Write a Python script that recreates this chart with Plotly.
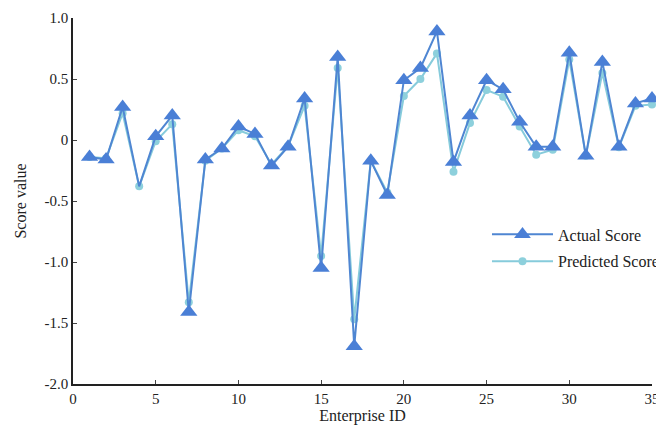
import plotly.graph_objects as go

enterprise_id = list(range(1, 36))
actual_score = [-0.14, -0.16, 0.27, -0.38, 0.03, 0.20, -1.41, -0.16, -0.07, 0.11,
                 0.05, -0.21, -0.055, 0.34, -1.05, 0.68, -1.69, -0.17, -0.45, 0.49,
                 0.59, 0.89, -0.18, 0.20, 0.49, 0.415, 0.15, -0.055, -0.055, 0.715,
                 -0.13, 0.64, -0.055, 0.30, 0.34]
predicted_score = [-0.14, -0.15, 0.22, -0.38, -0.01, 0.13, -1.33, -0.17, -0.07, 0.08,
                   0.03, -0.20, -0.05, 0.28, -0.95, 0.59, -1.47, -0.17, -0.43, 0.36,
                   0.50, 0.71, -0.26, 0.14, 0.41, 0.355, 0.11, -0.12, -0.08, 0.66,
                   -0.13, 0.55, -0.06, 0.28, 0.29]
y_ticks = [1.0, 0.5, 0, -0.5, -1.0, -1.5, -2.0]
y_tick_text = ["1.0", "0.5", "0", "-0.5", "-1.0", "-1.5", "-2.0"]
x_ticks = [0, 5, 10, 15, 20, 25, 30, 35]

actual_sizes = [15] * len(enterprise_id)
actual_sizes[3] = 0

font = "Liberation Serif, Times New Roman, serif"

fig = go.Figure()
fig.add_trace(go.Scatter(
    x=enterprise_id, y=predicted_score, name="Predicted Score",
    mode="lines+markers", legendgroup="p",
    line=dict(color="#86cbdb", width=2),
    marker=dict(symbol="circle", size=8, color="#8dd0dc", line=dict(width=0)),
    cliponaxis=False, legendrank=2,
))
fig.add_trace(go.Scatter(
    x=enterprise_id, y=actual_score, name="Actual Score",
    mode="lines+markers", legendgroup="a",
    line=dict(color="#4f86d2", width=2),
    marker=dict(symbol="triangle-up", size=actual_sizes, color="#4a7fd6",
                opacity=1, line=dict(width=0)),
    cliponaxis=False, legendrank=1,
))

fig.update_layout(
    width=656, height=428,
    margin=dict(l=73, r=4, t=18, b=44, autoexpand=False),
    paper_bgcolor="white", plot_bgcolor="white",
    font=dict(family=font, size=15, color="#222"),
    showlegend=True,
    legend=dict(x=0.715, y=0.455, xanchor="left", yanchor="top",
                bgcolor="rgba(0,0,0,0)", font=dict(size=16, family=font),
                itemwidth=61, tracegroupgap=3),
    xaxis=dict(range=[0, 35], tickvals=x_ticks, ticks="inside", ticklen=4,
               showline=True, linecolor="#222", linewidth=1.5, showgrid=False,
               zeroline=False, tickfont=dict(size=15, family=font),
               ticklabeloverflow="allow", automargin=False,
               title=dict(text="Enterprise ID", standoff=3, font=dict(size=16, family=font))),
    yaxis=dict(range=[-2.0, 1.0], tickvals=y_ticks, ticktext=y_tick_text,
               ticks="inside", ticklen=4, automargin=False,
               showline=True, linecolor="#222", linewidth=1.5, showgrid=False,
               zeroline=False, tickfont=dict(size=15, family=font),
               title=dict(text="Score value", standoff=14, font=dict(size=16, family=font))),
)

fig.write_html("out.html")
